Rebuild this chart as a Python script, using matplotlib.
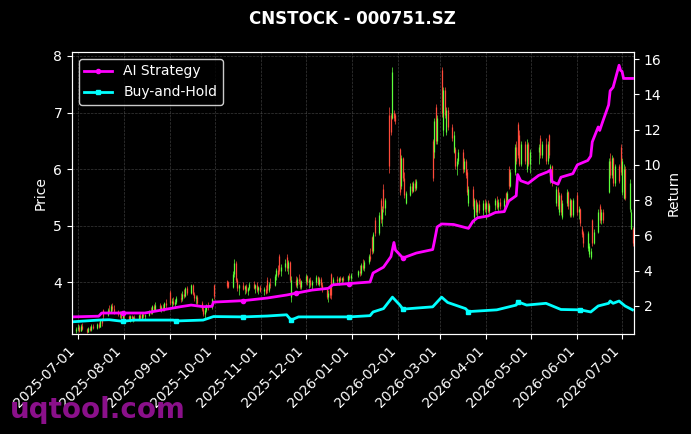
import numpy as np
import pandas as pd
import matplotlib
matplotlib.use("Agg")
import matplotlib.pyplot as plt
import matplotlib.dates as mdates

# ========== Data ==========
# exchange holidays inside the window (no candles on these days)
holidays = ["2025-10-01", "2025-10-02", "2025-10-03", "2025-10-06", "2025-10-07", "2025-10-08",
            "2026-01-01", "2026-01-02",
            "2026-02-16", "2026-02-17", "2026-02-18", "2026-02-19", "2026-02-20", "2026-02-23",
            "2026-04-06", "2026-05-01", "2026-05-04", "2026-05-05", "2026-06-19"]

# one line per trading week
opens = [
    3.15, 3.18, 3.22, 3.15, 3.24,
    3.18, 3.13, 3.20, 3.16, 3.24,
    3.20, 3.26, 3.22, 3.34, 3.52,
    3.42, 3.52, 3.48, 3.58, 3.54,
    3.50, 3.44, 3.47, 3.38, 3.44,
    3.40, 3.35, 3.40, 3.36, 3.39,
    3.34, 3.42, 3.38, 3.45, 3.40,
    3.43, 3.50, 3.46, 3.58, 3.52,
    3.60, 3.54, 3.56, 3.52, 3.63,
    3.84, 3.64, 3.68, 3.62, 3.66,
    3.72, 3.70, 3.80, 3.76, 3.90,
    3.82, 3.95, 3.80, 3.72, 3.75,
    3.64, 3.54, 3.44, 3.52, 3.60,
    3.56, 3.96,
    4.02, 4.01,
    3.92, 4.15, 4.35, 4.05, 3.90,
    3.95, 3.88, 3.93, 3.85, 3.90,
    3.98, 3.90, 3.95, 3.86, 3.92,
    3.85, 3.88, 4.05, 3.86, 3.98,
    3.95, 4.12, 4.22, 4.46, 4.20,
    4.28, 4.45, 4.25, 4.36, 3.75,
    4.05, 3.95, 4.06, 4.02, 3.92,
    4.02, 4.12, 4.00, 4.05, 3.96,
    4.00, 4.10, 3.98, 4.06, 3.95,
    3.88, 3.74, 3.96, 4.15, 3.98,
    4.06, 4.02, 4.08, 4.04, 4.08,
    4.05, 4.12, 4.08,
    4.14, 4.20, 4.16, 4.30, 4.26,
    4.36, 4.46, 4.80, 4.56, 5.10,
    4.88, 5.45, 5.12, 5.65, 5.32,
    6.95, 6.95, 6.90, 7.00, 6.95,
    6.35, 5.70, 6.20, 5.85, 5.40,
    5.55, 5.70, 5.62, 5.76, 5.66,
    6.50, 6.30, 7.10, 6.50,
    7.75, 6.70, 7.40, 6.65, 7.05,
    6.75, 6.30, 6.35, 6.05, 6.15,
    6.30, 6.00, 6.15, 5.95, 5.40,
    5.65, 5.15, 5.45, 5.25, 5.38,
    5.28, 5.40, 5.30, 5.40, 5.26,
    5.36, 5.46, 5.34, 5.42,
    5.35, 5.58, 5.45, 6.00, 5.70,
    5.95, 6.40, 6.80, 6.60, 6.10,
    6.45, 6.00, 6.45, 6.10,
    6.30, 6.55, 6.25,
    6.45, 6.15, 6.60, 5.80, 6.05,
    5.40, 5.65, 5.25, 5.55, 5.15,
    5.40, 5.60, 5.20, 5.45, 5.20,
    5.55, 5.25, 5.30, 4.95, 4.88,
    4.60, 4.50, 4.45, 5.10, 4.70,
    4.90, 5.35, 5.10, 5.25,
    5.60, 6.15, 5.90, 6.20, 5.75,
    6.05, 6.40, 5.60, 5.50, 6.00,
    5.30, 4.95, 4.95,
]
highs = [
    3.22, 3.26, 3.25, 3.27, 3.28,
    3.20, 3.22, 3.24, 3.26, 3.27,
    3.28, 3.30, 3.36, 3.38, 3.54,
    3.55, 3.60, 3.62, 3.63, 3.60,
    3.52, 3.50, 3.49, 3.46, 3.47,
    3.42, 3.42, 3.43, 3.41, 3.42,
    3.44, 3.46, 3.47, 3.47, 3.45,
    3.52, 3.56, 3.60, 3.62, 3.65,
    3.64, 3.60, 3.62, 3.66, 3.70,
    3.86, 3.72, 3.74, 3.70, 3.76,
    3.82, 3.85, 3.88, 3.92, 3.94,
    3.98, 3.97, 3.84, 3.78, 3.77,
    3.68, 3.58, 3.56, 3.62, 3.66,
    3.72, 3.98,
    4.04, 4.03,
    4.20, 4.42, 4.38, 4.08, 3.98,
    4.00, 3.96, 3.97, 3.92, 4.00,
    4.02, 3.97, 4.00, 3.94, 3.96,
    3.92, 3.96, 4.09, 4.00, 4.08,
    4.15, 4.25, 4.30, 4.50, 4.32,
    4.42, 4.50, 4.40, 4.38, 4.12,
    4.12, 4.10, 4.15, 4.08, 4.05,
    4.15, 4.14, 4.08, 4.10, 4.04,
    4.14, 4.12, 4.10, 4.10, 4.00,
    3.92, 3.86, 3.98, 4.17, 4.10,
    4.12, 4.10, 4.12, 4.10, 4.12,
    4.14, 4.17, 4.16,
    4.22, 4.30, 4.34, 4.42, 4.40,
    4.50, 4.60, 4.82, 4.90, 5.15,
    5.25, 5.50, 5.35, 5.74, 5.50,
    7.10, 7.00, 7.80, 7.05, 7.00,
    6.38, 6.25, 6.22, 5.95, 5.62,
    5.75, 5.78, 5.80, 5.82, 5.82,
    6.53, 6.90, 7.15, 6.95,
    7.80, 7.46, 7.45, 7.10, 7.10,
    6.80, 6.67, 6.40, 6.20, 6.35,
    6.35, 6.20, 6.18, 6.00, 5.70,
    5.70, 5.50, 5.48, 5.42, 5.45,
    5.45, 5.47, 5.44, 5.46, 5.40,
    5.50, 5.53, 5.48, 5.50,
    5.50, 5.60, 5.62, 6.05, 6.00,
    6.45, 6.50, 6.84, 6.70, 6.50,
    6.50, 6.53, 6.48, 6.35,
    6.45, 6.60, 6.50,
    6.55, 6.50, 6.63, 6.10, 6.08,
    5.70, 5.68, 5.60, 5.58, 5.45,
    5.65, 5.62, 5.50, 5.48, 5.50,
    5.60, 5.35, 5.32, 5.00, 4.91,
    4.91, 4.70, 4.60, 5.12, 4.95,
    5.30, 5.39, 5.30, 5.30,
    6.20, 6.28, 6.25, 6.22, 6.10,
    6.10, 6.44, 6.20, 6.10, 6.05,
    5.82, 5.30, 4.98,
]
lows = [
    3.11, 3.14, 3.13, 3.14, 3.16,
    3.11, 3.12, 3.14, 3.15, 3.17,
    3.18, 3.20, 3.21, 3.24, 3.36,
    3.40, 3.46, 3.46, 3.50, 3.45,
    3.40, 3.38, 3.36, 3.34, 3.35,
    3.32, 3.30, 3.33, 3.31, 3.32,
    3.33, 3.36, 3.36, 3.37, 3.34,
    3.40, 3.44, 3.45, 3.50, 3.50,
    3.50, 3.47, 3.50, 3.50, 3.55,
    3.60, 3.56, 3.60, 3.58, 3.62,
    3.66, 3.68, 3.72, 3.74, 3.78,
    3.80, 3.78, 3.68, 3.62, 3.60,
    3.50, 3.40, 3.38, 3.48, 3.52,
    3.54, 3.70,
    3.90, 3.90,
    3.90, 4.10, 4.00, 3.85, 3.77,
    3.86, 3.80, 3.82, 3.78, 3.86,
    3.88, 3.82, 3.84, 3.80, 3.83,
    3.78, 3.80, 3.82, 3.84, 3.90,
    3.93, 4.05, 4.10, 4.15, 4.12,
    4.20, 4.20, 4.15, 4.00, 3.66,
    3.92, 3.90, 3.98, 3.88, 3.88,
    3.98, 3.96, 3.90, 3.92, 3.88,
    3.96, 3.95, 3.94, 3.92, 3.84,
    3.70, 3.66, 3.72, 3.70, 3.95,
    3.98, 3.96, 4.00, 3.98, 4.00,
    4.00, 4.04, 4.02,
    4.10, 4.12, 4.14, 4.22, 4.20,
    4.33, 4.38, 4.50, 4.52, 4.82,
    4.84, 5.05, 5.00, 5.25, 5.20,
    5.93, 6.60, 6.88, 6.85, 6.80,
    5.55, 5.65, 5.80, 5.50, 5.38,
    5.53, 5.58, 5.60, 5.62, 5.64,
    5.79, 6.20, 6.44, 6.45,
    6.93, 6.58, 6.90, 6.60, 6.70,
    6.50, 6.28, 6.00, 5.90, 6.10,
    5.93, 5.95, 5.85, 5.55, 5.35,
    5.30, 5.05, 5.20, 5.15, 5.22,
    5.20, 5.25, 5.12, 5.22, 5.20,
    5.28, 5.30, 5.26, 5.30,
    5.30, 5.35, 5.40, 5.65, 5.68,
    5.90, 6.10, 6.20, 6.05, 6.05,
    6.10, 5.95, 6.05, 5.93,
    6.10, 6.20, 6.20,
    6.10, 6.10, 6.20, 5.75, 5.70,
    5.35, 5.30, 5.20, 5.20, 5.12,
    5.35, 5.30, 5.15, 5.15, 5.15,
    5.20, 5.12, 5.00, 4.80, 4.62,
    4.55, 4.45, 4.42, 4.65, 4.68,
    4.88, 5.05, 5.03, 5.05,
    5.58, 5.85, 5.85, 5.70, 5.70,
    5.75, 5.90, 5.55, 5.48, 5.45,
    5.25, 4.95, 4.65,
]
closes = [
    3.18, 3.22, 3.15, 3.24, 3.18,
    3.13, 3.20, 3.16, 3.24, 3.20,
    3.26, 3.22, 3.34, 3.28, 3.40,
    3.52, 3.48, 3.58, 3.54, 3.50,
    3.44, 3.47, 3.38, 3.44, 3.40,
    3.35, 3.40, 3.36, 3.39, 3.34,
    3.42, 3.38, 3.45, 3.40, 3.43,
    3.50, 3.46, 3.58, 3.52, 3.60,
    3.54, 3.56, 3.52, 3.63, 3.60,
    3.64, 3.68, 3.62, 3.66, 3.72,
    3.70, 3.80, 3.76, 3.90, 3.82,
    3.95, 3.80, 3.72, 3.75, 3.64,
    3.54, 3.44, 3.52, 3.60, 3.56,
    3.70, 3.76,
    3.93, 3.92,
    4.15, 4.35, 4.05, 3.90, 3.95,
    3.88, 3.93, 3.85, 3.90, 3.98,
    3.90, 3.95, 3.86, 3.92, 3.85,
    3.88, 3.82, 3.86, 3.98, 3.95,
    4.12, 4.22, 4.14, 4.20, 4.28,
    4.35, 4.25, 4.36, 4.05, 4.05,
    3.95, 4.06, 4.02, 3.92, 4.02,
    4.12, 4.00, 4.05, 3.96, 4.00,
    4.10, 3.98, 4.06, 3.95, 3.88,
    3.74, 3.82, 3.78, 3.78, 4.06,
    4.02, 4.08, 4.04, 4.08, 4.05,
    4.12, 4.08, 4.14,
    4.20, 4.16, 4.30, 4.26, 4.36,
    4.46, 4.42, 4.56, 4.85, 4.88,
    5.20, 5.12, 5.30, 5.32, 5.46,
    6.05, 6.65, 7.72, 6.90, 6.85,
    5.60, 6.20, 5.85, 5.55, 5.58,
    5.70, 5.62, 5.76, 5.66, 5.80,
    5.85, 6.85, 6.50, 6.90,
    7.00, 7.40, 6.95, 7.05, 6.75,
    6.55, 6.60, 6.05, 6.15, 6.30,
    6.00, 6.15, 5.90, 5.60, 5.65,
    5.35, 5.45, 5.25, 5.38, 5.28,
    5.40, 5.30, 5.40, 5.26, 5.36,
    5.46, 5.34, 5.42, 5.35,
    5.45, 5.40, 5.58, 5.70, 5.95,
    6.40, 6.15, 6.25, 6.10, 6.45,
    6.15, 6.45, 6.10, 6.30,
    6.40, 6.25, 6.45,
    6.15, 6.45, 6.25, 6.05, 5.75,
    5.65, 5.35, 5.55, 5.25, 5.40,
    5.60, 5.35, 5.45, 5.20, 5.45,
    5.25, 5.30, 5.05, 4.85, 4.70,
    4.88, 4.65, 4.55, 4.70, 4.90,
    5.25, 5.10, 5.25, 5.10,
    6.15, 5.90, 6.20, 5.75, 6.05,
    5.80, 5.95, 6.15, 6.00, 5.50,
    5.75, 5.25, 4.70,
]

# cumulative return curves (right axis)
ai_dates = ["2025-06-27", "2025-07-15", "2025-07-17", "2025-07-31", "2025-08-15", "2025-09-08",
            "2025-09-15", "2025-09-23", "2025-09-29", "2025-09-30", "2025-10-20", "2025-11-05",
            "2025-11-18", "2025-11-24", "2025-12-05", "2025-12-16", "2025-12-19", "2025-12-30",
            "2026-01-13", "2026-01-15", "2026-01-22", "2026-01-27", "2026-01-29", "2026-01-30",
            "2026-02-04", "2026-02-13", "2026-02-24", "2026-02-25", "2026-02-27", "2026-03-02",
            "2026-03-10", "2026-03-20", "2026-03-23", "2026-03-26", "2026-04-02", "2026-04-07",
            "2026-04-13", "2026-04-16", "2026-04-21", "2026-04-22", "2026-04-24", "2026-04-29",
            "2026-05-06", "2026-05-12", "2026-05-14", "2026-05-15", "2026-05-19", "2026-05-21",
            "2026-05-29", "2026-06-01", "2026-06-08", "2026-06-10", "2026-06-11", "2026-06-15",
            "2026-06-16", "2026-06-18", "2026-06-22", "2026-06-23", "2026-06-25", "2026-06-29",
            "2026-06-30", "2026-07-01", "2026-07-02", "2026-07-08"]
ai_values = [1.38, 1.42, 1.60, 1.60, 1.60, 1.96,
             2.05, 1.96, 1.98, 2.22, 2.30, 2.45,
             2.62, 2.72, 2.90, 3.00, 3.20, 3.27,
             3.36, 3.87, 4.20, 4.80, 5.60, 5.17,
             4.72, 5.00, 5.20, 5.60, 6.48, 6.65,
             6.62, 6.40, 6.80, 7.00, 7.10, 7.30,
             7.35, 7.95, 8.25, 9.45, 9.10, 8.95,
             9.40, 9.60, 9.70, 9.05, 8.90, 9.30,
             9.50, 10.00, 10.25, 10.50, 11.30, 12.15,
             11.95, 12.45, 13.40, 14.20, 14.40, 15.65,
             15.35, 15.30, 14.90, 14.90]
ai_markers = ["2025-07-31", "2025-10-20", "2025-11-24", "2025-12-30", "2026-02-04"]

bh_dates = ["2025-06-27", "2025-07-15", "2025-07-22", "2025-07-31", "2025-08-08", "2025-09-03",
            "2025-09-05", "2025-09-23", "2025-09-30", "2025-10-20", "2025-11-05", "2025-11-18",
            "2025-11-21", "2025-11-26", "2025-12-30", "2026-01-13", "2026-01-15", "2026-01-22",
            "2026-01-28", "2026-02-02", "2026-02-04", "2026-02-13", "2026-02-24", "2026-03-02",
            "2026-03-06", "2026-03-18", "2026-03-20", "2026-04-08", "2026-04-21", "2026-04-22",
            "2026-04-28", "2026-05-11", "2026-05-21", "2026-06-03", "2026-06-10", "2026-06-15",
            "2026-06-22", "2026-06-23", "2026-06-25", "2026-06-29", "2026-07-03", "2026-07-08"]
bh_values = [1.10, 1.20, 1.22, 1.13, 1.20, 1.20,
             1.15, 1.20, 1.40, 1.38, 1.43, 1.50,
             1.20, 1.38, 1.38, 1.45, 1.66, 1.85,
             2.50, 2.05, 1.82, 1.88, 1.95, 2.50,
             2.20, 1.85, 1.68, 1.78, 2.05, 2.24,
             2.05, 2.15, 1.80, 1.78, 1.66, 2.00,
             2.15, 2.28, 2.15, 2.28, 2.00, 1.78]
bh_markers = ["2025-07-31", "2025-09-05", "2025-10-20", "2025-11-21", "2025-12-30",
              "2026-02-04", "2026-03-20", "2026-04-22", "2026-06-03"]

# ========== Plot ==========
up_color = "#5cff3a"
down_color = "#ff4a3a"

plt.style.use("dark_background")
fig, ax = plt.subplots(figsize=(6.91, 4.34), dpi=100)
fig.subplots_adjust(left=0.104, right=0.9175, bottom=0.2304, top=0.8802)

days = pd.bdate_range("2025-06-30", "2026-07-08")
days = days[~days.isin(pd.to_datetime(holidays))]
o = np.array(opens)
h = np.array(highs)
l = np.array(lows)
c = np.array(closes)
n = min(len(days), len(c))
days, o, h, l, c = days[:n], o[:n], h[:n], l[:n], c[:n]

# thin candles: wick + slightly thicker body
cols = np.where(c >= o, up_color, down_color)
ax.vlines(days, l, h, colors=cols, linewidth=0.5)
ax.vlines(days, np.minimum(o, c), np.maximum(o, c), colors=cols, linewidth=0.9)

ax.set_ylim(3.09, 8.07)
ax.set_xlim(pd.Timestamp("2025-06-27"), pd.Timestamp("2026-07-09"))
ax.set_ylabel("Price", fontsize=10)
ax.grid(True, linestyle="--", linewidth=0.5, color="gray", alpha=0.45)

ax.xaxis.set_major_locator(mdates.MonthLocator(bymonthday=1))
ax.xaxis.set_major_formatter(mdates.DateFormatter("%Y-%m-%d"))
plt.setp(ax.get_xticklabels(), rotation=45, ha="right", fontsize=10)
ax.tick_params(axis="y", labelsize=10)

ax2 = ax.twinx()
ai_d = pd.to_datetime(ai_dates)
bh_d = pd.to_datetime(bh_dates)
ai_every = list(np.where(ai_d.isin(pd.to_datetime(ai_markers)))[0])
bh_every = list(np.where(bh_d.isin(pd.to_datetime(bh_markers)))[0])
ax2.plot(ai_d, ai_values, color="#ff00ff", linewidth=2, marker="o", markersize=3,
         markevery=ai_every, label="AI Strategy")
ax2.plot(bh_d, bh_values, color="#00ffff", linewidth=2, marker="s", markersize=3,
         markevery=bh_every, label="Buy-and-Hold")
ax2.set_ylim(0.41, 16.4)
ax2.set_ylabel("Return", fontsize=10)
ax2.tick_params(axis="y", labelsize=10)
ax2.set_xlim(pd.Timestamp("2025-06-27"), pd.Timestamp("2026-07-09"))

leg = ax2.legend(loc="upper left", fontsize=10, facecolor="black", edgecolor="white")

ax.set_title("CNSTOCK - 000751.SZ", fontsize=12, fontweight="bold", color="white", pad=20)

fig.text(0.014, 0.037, "uqtool.com", fontsize=20, fontweight="bold", color="#8a108a",
         va="baseline", ha="left")

fig.savefig("out.png", dpi=100, facecolor="black")
